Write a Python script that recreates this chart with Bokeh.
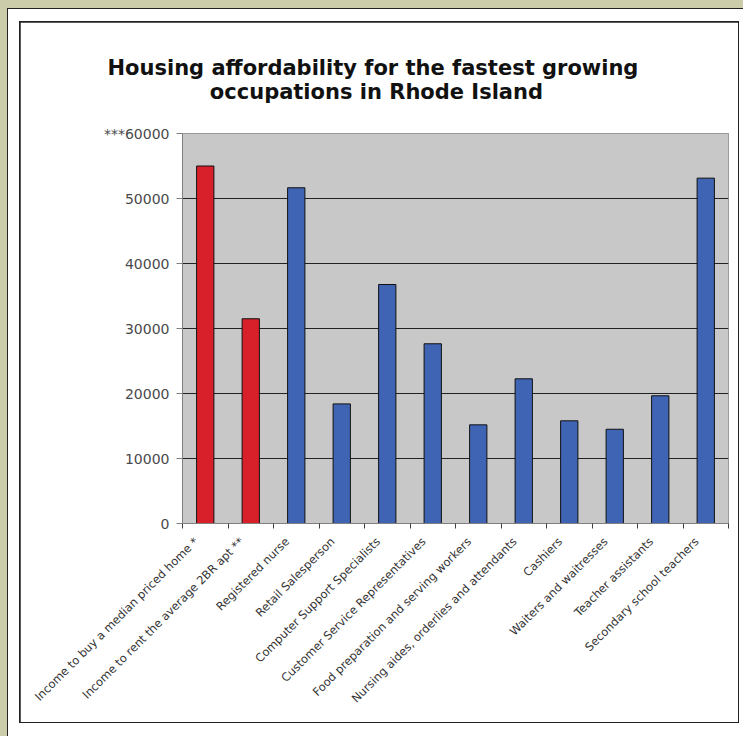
import math
from bokeh.plotting import figure
from bokeh.layouts import column
from bokeh.models import (FactorRange, Range1d, LinearAxis, FixedTicker, CustomJSTickFormatter,
                          ColumnDataSource, Grid, Title)
from bokeh.transform import factor_cmap
from bokeh.embed import file_html
from bokeh.resources import INLINE

# ---- data ----
categories = [
    "Income to buy a median priced home",
    "Income to rent the average 2BR apt",
    "Registered nurse",
    "Retail Salesperson",
    "Computer Support Specialists",
    "Customer Service Representatives",
    "Food preparation and serving workers",
    "Nursing aides, orderlies and attendants",
    "Cashiers",
    "Waiters and waitresses",
    "Teacher assistants",
    "Secondary school teachers",
]
values = [55000, 31500, 51650, 18400, 36770, 27650, 15180, 22260, 15800, 14500, 19650, 53130]
groups = ["Housing cost"] * 2 + ["Occupation"] * 10
group_names = ["Housing cost", "Occupation"]
category_marks = ["*", "**", "", "", "", "", "", "", "", "", "", ""]
y_ticks = [0, 10000, 20000, 30000, 40000, 50000, 60000]
y_top_mark = "***"
title_lines = ["Housing affordability for the fastest growing", "occupations in Rhode Island"]

# ---- style / layout ----
RED = "#d8202b"
BLUE = "#4064b4"
OLIVE = "#cbcca9"
DARK = "#222222"
FONT = "DejaVu Sans"
PW, PH = 718, 700                       # figure size (inside the inner frame)
FL, FR, FT, FB = 162, 708, 111, 501     # plot frame inside the figure
YMAX = 60000
N = len(categories)

p = figure(
    x_range=FactorRange(factors=categories), y_range=Range1d(0, YMAX),
    width=PW, height=PH, output_backend="svg", toolbar_location=None,
    x_axis_location=None, y_axis_location=None,
    min_border_left=FL, min_border_right=PW - FR, min_border_top=FT, min_border_bottom=PH - FB,
    background_fill_color="#c8c8c8", border_fill_color="white",
    outline_line_color="#9a9a9a", margin=(1, 1, 1, 1),
)

p.center = [Grid(dimension=1, ticker=FixedTicker(ticks=y_ticks),
                 grid_line_color="#222222", grid_line_width=1)]

yax = LinearAxis(
    ticker=FixedTicker(ticks=y_ticks),
    formatter=CustomJSTickFormatter(args=dict(top=YMAX, mark=y_top_mark),
                                    code="return (tick >= top ? mark : '') + Math.round(tick);"),
    axis_line_color="#808080", major_tick_line_color="#808080",
    major_tick_in=0, major_tick_out=6, minor_tick_line_color=None,
    major_label_text_font=FONT, major_label_text_font_size="14px",
    major_label_text_color="#4a4a4a", major_label_standoff=7)
p.add_layout(yax, "left")

label_shift = 0.2   # Excel-style labels end slightly left of the category centre
xax = LinearAxis(
    ticker=FixedTicker(ticks=[i + 0.5 - label_shift for i in range(N)],
                       minor_ticks=list(range(N + 1))),
    formatter=CustomJSTickFormatter(
        args=dict(labels=categories, marks=category_marks, shift=label_shift),
        code="const i = Math.round(tick - 0.5 + shift);"
             " const m = marks[i] ? ' ' + marks[i] : '';"
             " return (labels[i] || '') + m;"),
    major_label_orientation=math.pi / 4,
    axis_line_color="#808080",
    major_tick_line_color=None, major_tick_in=0, major_tick_out=0,
    minor_tick_line_color="#404040", minor_tick_in=0, minor_tick_out=5,
    major_label_text_font=FONT, major_label_text_font_size="11.5px",
    major_label_text_color="#333333", major_label_standoff=11)
p.add_layout(xax, "below")

src = ColumnDataSource(dict(category=categories, value=values, group=groups))
p.vbar(x="category", top="value", width=0.38, source=src,
       fill_color=factor_cmap("group", palette=[RED, BLUE], factors=group_names),
       line_color="#111111", line_width=1)

# two-line title: one multi-line Title, second line indented so both look centred
indent = "\u00a0" * 14
p.add_layout(Title(text=title_lines[0] + "\n" + indent + title_lines[1],
                   align="left", offset=-75, standoff=60, text_line_height=1.0,
                   text_font=FONT, text_font_style="bold", text_font_size="21px",
                   text_color="#111111"), "above")

# page framing: olive page, white sheet with dark edge, inner dark frame
border_box = column(p, background=DARK, margin=(12, 4, 13, 11))
white_box = column(border_box, background="white", margin=(1, 0, 0, 1))
dark_box = column(white_box, background=DARK, margin=(8, 0, 0, 7))
root = column(dark_box, background=OLIVE)

open("out.html", "w").write(file_html(root, INLINE, title="Housing affordability"))
